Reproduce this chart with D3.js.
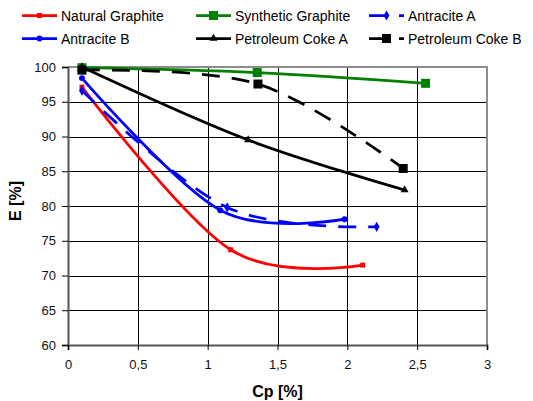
<!DOCTYPE html>
<html>
<head>
<meta charset="utf-8">
<script src="https://cdn.jsdelivr.net/npm/d3@7"></script>
<style>
  html, body { margin: 0; padding: 0; background: #fff; }
  svg { display: block; font-family: "Liberation Sans", Arial, sans-serif; }
</style>
</head>
<body>
<svg id="chart" width="533" height="401"></svg>
<script>
// ---- data ----
const seriesNames = ["Natural Graphite", "Synthetic Graphite", "Antracite A", "Antracite B", "Petroleum Coke A", "Petroleum Coke B"];
const naturalGraphite   = [[0.10, 97.1], [1.165, 73.7], [2.11, 71.5]];
const syntheticGraphite = [[0.10, 99.9], [1.355, 99.2], [2.56, 97.65]];
const antraciteA        = [[0.10, 96.6], [1.14, 79.8], [2.21, 77.0]];
const antraciteB        = [[0.10, 98.4], [1.09, 79.4], [1.98, 78.1]];
const petroleumCokeA    = [[0.10, 100.0], [1.29, 89.5], [2.41, 82.3]];
const petroleumCokeB    = [[0.10, 99.55], [1.36, 97.55], [2.40, 85.4]];
const xTicks = [0, 0.5, 1, 1.5, 2, 2.5, 3];
const xTickLabels = ["0", "0,5", "1", "1,5", "2", "2,5", "3"];
const yTicks = [60, 65, 70, 75, 80, 85, 90, 95, 100];
const yTickLabels = ["60", "65", "70", "75", "80", "85", "90", "95", "100"];
const xTitle = "Cp [%]";
const yTitle = "E [%]";

// ---- styles ----
const styles = [
  { data: naturalGraphite,   color: "#ff0000", dash: null,    symbol: d3.symbolSquare,   size: 25 },
  { data: syntheticGraphite, color: "#008000", dash: null,    symbol: d3.symbolSquare,   size: 81 },
  { data: antraciteA,        color: "#0000ff", dash: "18,12", symbol: d3.symbolDiamond,  size: 30 },
  { data: antraciteB,        color: "#0000ff", dash: null,    symbol: d3.symbolCircle,   size: 28 },
  { data: petroleumCokeA,    color: "#000000", dash: null,    symbol: d3.symbolTriangle, size: 28 },
  { data: petroleumCokeB,    color: "#000000", dash: "18,12", symbol: d3.symbolSquare,   size: 81 }
];

const svg = d3.select("#chart");
const L = 68, R = 487, T = 67, B = 345;
const x = d3.scaleLinear().domain([0, 3]).range([L, R]);
const y = d3.scaleLinear().domain([60, 100]).range([B, T]);

// gridlines
const grid = svg.append("g");
grid.selectAll("line.h").data(yTicks.slice(1)).join("line")
  .attr("x1", L).attr("x2", R)
  .attr("y1", d => Math.round(y(d)) + 0.5).attr("y2", d => Math.round(y(d)) + 0.5)
  .attr("stroke", "#000").attr("stroke-width", 1);
grid.selectAll("line.v").data(xTicks.slice(1, -1)).join("line")
  .attr("y1", T).attr("y2", B)
  .attr("x1", d => Math.round(x(d)) + 0.5).attr("x2", d => Math.round(x(d)) + 0.5)
  .attr("stroke", "#000").attr("stroke-width", 1);

// plot border (right & top)
svg.append("path")
  .attr("d", `M${L},${T}H${R}V${B}`)
  .attr("fill", "none").attr("stroke", "#8c8c8c").attr("stroke-width", 2);

// axes
const yAxis = d3.axisLeft(y).tickValues(yTicks)
  .tickFormat((d, i) => yTickLabels[i]).tickSize(6).tickPadding(6);
const gy = svg.append("g").attr("transform", `translate(${L},0)`).call(yAxis);
const xAxis = d3.axisBottom(x).tickValues(xTicks)
  .tickFormat((d, i) => xTickLabels[i]).tickSize(5).tickPadding(10);
const gx = svg.append("g").attr("transform", `translate(0,${B})`).call(xAxis);
[gx, gy].forEach(g => {
  g.select(".domain").attr("stroke", "#555").attr("stroke-width", 2);
  g.selectAll(".tick line").attr("stroke", "#000");
  g.selectAll(".tick text").attr("font-size", 13).attr("fill", "#111")
    .attr("font-family", "'Liberation Sans', Arial, sans-serif");
});

// axis titles
svg.append("text").attr("x", (L + R) / 2).attr("y", 397)
  .attr("text-anchor", "middle").attr("font-size", 16).attr("font-weight", "bold")
  .text(xTitle);
svg.append("text").attr("transform", `translate(21,201) rotate(-90)`)
  .attr("text-anchor", "middle").attr("font-size", 16).attr("font-weight", "bold")
  .text(yTitle);

// series
const line = d3.line().x(d => x(d[0])).y(d => y(d[1])).curve(d3.curveCardinal.tension(0));
const plot = svg.append("g");
styles.forEach(s => {
  plot.append("path").attr("d", line(s.data))
    .attr("fill", "none").attr("stroke", s.color).attr("stroke-width", 2.75)
    .attr("stroke-dasharray", s.dash);
  plot.selectAll(null).data(s.data).join("path")
    .attr("transform", d => `translate(${x(d[0])},${y(d[1])})`)
    .attr("d", d3.symbol().type(s.symbol).size(s.size))
    .attr("fill", s.color);
});

// legend
const legCols = [22, 196, 369];
const legRows = [15.5, 38.5];
const leg = svg.append("g");
styles.forEach((s, i) => {
  const lx = legCols[i % 3], ly = legRows[Math.floor(i / 3)];
  leg.append("line").attr("x1", lx).attr("x2", lx + 35).attr("y1", ly).attr("y2", ly)
    .attr("stroke", s.color).attr("stroke-width", 2.75).attr("stroke-dasharray", s.dash);
  leg.append("path").attr("transform", `translate(${lx + 17.5},${ly})`)
    .attr("d", d3.symbol().type(s.symbol).size(s.size)).attr("fill", s.color);
  leg.append("text").attr("x", lx + 39).attr("y", ly + 5).attr("font-size", 14)
    .attr("fill", "#000").text(seriesNames[i]);
});
</script>
</body>
</html>
